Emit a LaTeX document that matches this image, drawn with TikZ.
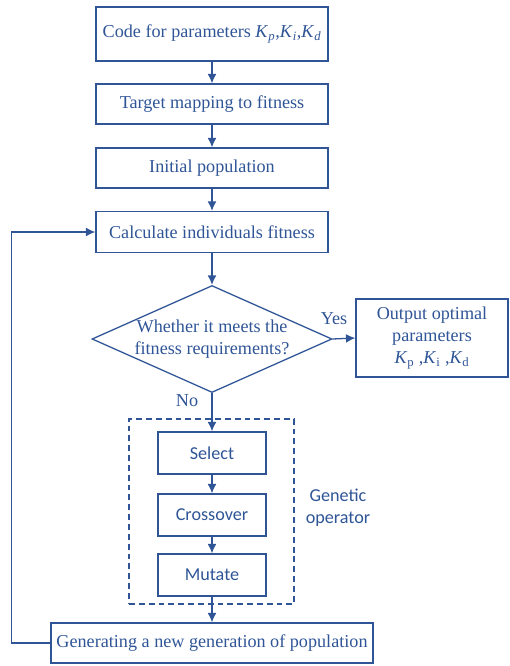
\documentclass[tikz,border=0pt]{standalone}
\usepackage{fontspec}
\setmainfont{Liberation Serif}
\newfontfamily\opfont{Carlito}
\usepackage{tikz}
\usetikzlibrary{shapes.geometric}
\usetikzlibrary{arrows.meta}
\definecolor{flowblue}{RGB}{47,85,151}
\newcommand{\gainit}[1]{\textit{K}\textsubscript{\textit{#1}}}
\newcommand{\gainup}[1]{\textit{K}\textsubscript{#1}}

\begin{document}
\begin{tikzpicture}[x=0.03cm,y=-0.03cm,
  every node/.style={text=flowblue,font=\fontsize{15.5}{18.6}\selectfont},
  proc/.style={draw=flowblue,line width=1.1pt,minimum width=6.96cm,inner sep=0pt},
  opbox/.style={draw=flowblue,line width=1.1pt,minimum width=3.24cm,minimum height=1.26cm,inner sep=0pt,font=\opfont\fontsize{15.5}{18.6}\selectfont},
  decision/.style={draw=flowblue,line width=1.1pt,diamond,minimum width=7.2cm,minimum height=3.21cm,inner sep=0pt},
  >={Latex[length=8pt,width=7.5pt]}]
\useasboundingbox (0,0) rectangle (510,666);

\node[proc,minimum height=1.62cm] (code) at (212,34) {Code for parameters \gainit{p},\gainit{i},\gainit{d}};
\node[proc,minimum height=1.2cm] (map) at (212,104) {Target mapping to fitness};
\node[proc,minimum height=1.2cm] (init) at (212,168) {Initial population};
\node[proc,minimum height=1.23cm] (calc) at (212,232) {Calculate individuals fitness};
\node[decision] (fit) at (212,339) {};
\node[align=center,inner sep=0pt] (fittext) at (212,339) {Whether it meets the\\fitness requirements?};
\node[draw=flowblue,line width=1.1pt,minimum width=4.56cm,minimum height=2.34cm,inner sep=0pt,align=center] (out) at (432,338) {Output optimal\\parameters\\\gainup{p} ,\gainup{i} ,\gainup{d}};
\node (yes) at (334,319) {Yes};
\node (no) at (187,401) {No};
\node[draw=flowblue,line width=1.1pt,dash pattern=on 5pt off 3.4pt,minimum width=4.95cm,minimum height=5.55cm,inner sep=0pt] (gop) at (211.5,511.5) {};
\node[opbox] (sel) at (212,453) {Select};
\node[opbox] (cross) at (212,515) {Crossover};
\node[opbox] (mut) at (212,575) {Mutate};
\node[align=center,font=\opfont\fontsize{15.5}{18.6}\selectfont] (goplabel) at (338,508) {Genetic\\operator};
\node[draw=flowblue,line width=1.1pt,minimum width=9.66cm,minimum height=1.2cm,inner sep=0pt] (gen) at (212,643) {Generating a new generation of population};

\draw[->, flowblue, line width=1.1pt] (code) -- (map);
\draw[->, flowblue, line width=1.1pt] (map) -- (init);
\draw[->, flowblue, line width=1.1pt] (init) -- (calc);
\draw[->, flowblue, line width=1.1pt] (calc) -- (fit);
\draw[->, flowblue, line width=1.1pt] (fit.east) -- (out.west);
\draw[->, flowblue, line width=1.1pt] (fit.south) -- (sel.north);
\draw[->, flowblue, line width=1.1pt] (sel) -- (cross);
\draw[->, flowblue, line width=1.1pt] (cross) -- (mut);
\draw[->, flowblue, line width=1.1pt] (mut) -- (gen);
\draw[->, flowblue, line width=1.1pt] (gen.west) -- ++(-39,0) |- (calc.west);
\end{tikzpicture}
\end{document}
